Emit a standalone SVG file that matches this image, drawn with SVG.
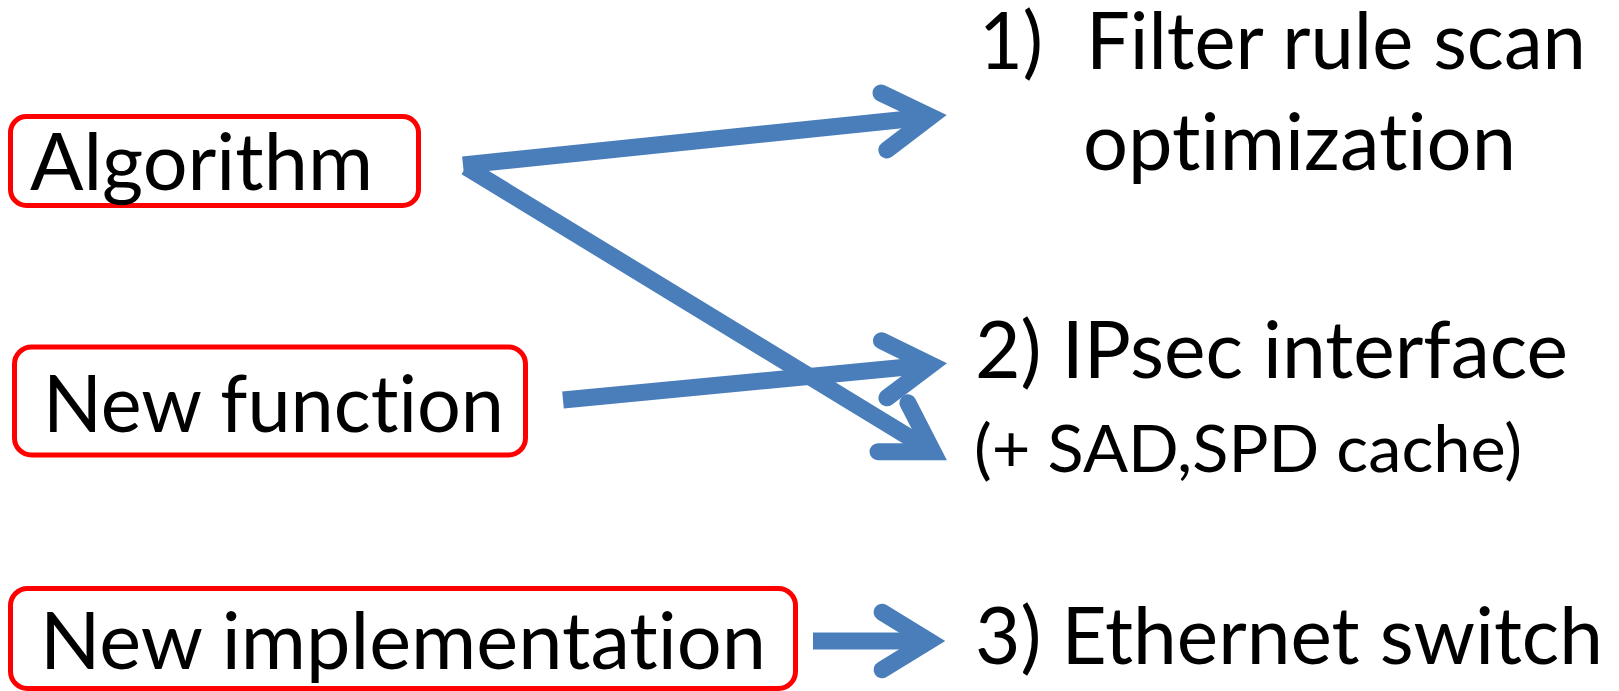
<svg xmlns="http://www.w3.org/2000/svg" width="1619" height="691" viewBox="0 0 1619 691">
  <style>
    .box { fill: #FFFFFF; stroke: #FF0000; stroke-width: 5; }
    .lbl { font-family: Lato, "Liberation Sans", sans-serif; font-size: 80px; fill: #000000; font-variant-ligatures: none; font-feature-settings: "liga" 0, "clig" 0; }
    .small { font-size: 66px; }
    .conn { fill: none; stroke: #4A7EBB; stroke-width: 17; stroke-linecap: butt; marker-end: url(#openArrow); }
  </style>
  <defs>
    <marker id="openArrow" markerUnits="userSpaceOnUse" orient="auto" refX="0" refY="0" markerWidth="120" markerHeight="120" overflow="visible">
      <polyline points="-46.9,-28.7 0,0 -46.9,28.7" fill="none" stroke="#4A7EBB" stroke-width="17" stroke-linecap="round" stroke-linejoin="miter" stroke-miterlimit="10"/>
    </marker>
  </defs>
  <rect width="1619" height="691" fill="#FFFFFF"/>

  <g id="node-algorithm">
    <rect class="box" x="10.5" y="116.5" width="408" height="89" rx="16" ry="16"/>
    <text class="lbl" x="30" y="190" textLength="343" lengthAdjust="spacingAndGlyphs">Algorithm</text>
  </g>

  <g id="node-new-function">
    <rect class="box" x="14.5" y="347" width="511" height="108" rx="17" ry="17"/>
    <text class="lbl" x="43" y="432" textLength="461" lengthAdjust="spacingAndGlyphs">New function</text>
  </g>

  <g id="node-new-implementation">
    <rect class="box" x="10.5" y="588.5" width="785" height="100" rx="17" ry="17"/>
    <text class="lbl" x="40" y="669" textLength="726" lengthAdjust="spacingAndGlyphs">New implementation</text>
  </g>

  <g id="node-filter-rule">
    <text class="lbl" x="979" y="69" textLength="64" lengthAdjust="spacingAndGlyphs">1)</text>
    <text class="lbl" x="1086" y="69" textLength="500" lengthAdjust="spacingAndGlyphs">Filter rule scan</text>
    <text class="lbl" x="1083" y="170" textLength="433" lengthAdjust="spacingAndGlyphs">optimization</text>
  </g>

  <g id="node-ipsec">
    <text class="lbl" x="975" y="378" textLength="593" lengthAdjust="spacingAndGlyphs">2) IPsec interface</text>
    <text class="lbl small" x="974" y="472" textLength="548" lengthAdjust="spacingAndGlyphs">(+ SAD,SPD cache)</text>
  </g>

  <g id="node-ethernet">
    <text class="lbl" x="975" y="664" textLength="628" lengthAdjust="spacingAndGlyphs">3) Ethernet switch</text>
  </g>

  <g id="connectors">
    <line class="conn" x1="463" y1="165" x2="930.5" y2="116.7"/>
    <line class="conn" x1="466" y1="167" x2="933" y2="451.7"/>
    <line class="conn" x1="563" y1="400" x2="930.8" y2="364.8"/>
    <line class="conn" x1="813" y1="641" x2="929" y2="641"/>
  </g>
</svg>
